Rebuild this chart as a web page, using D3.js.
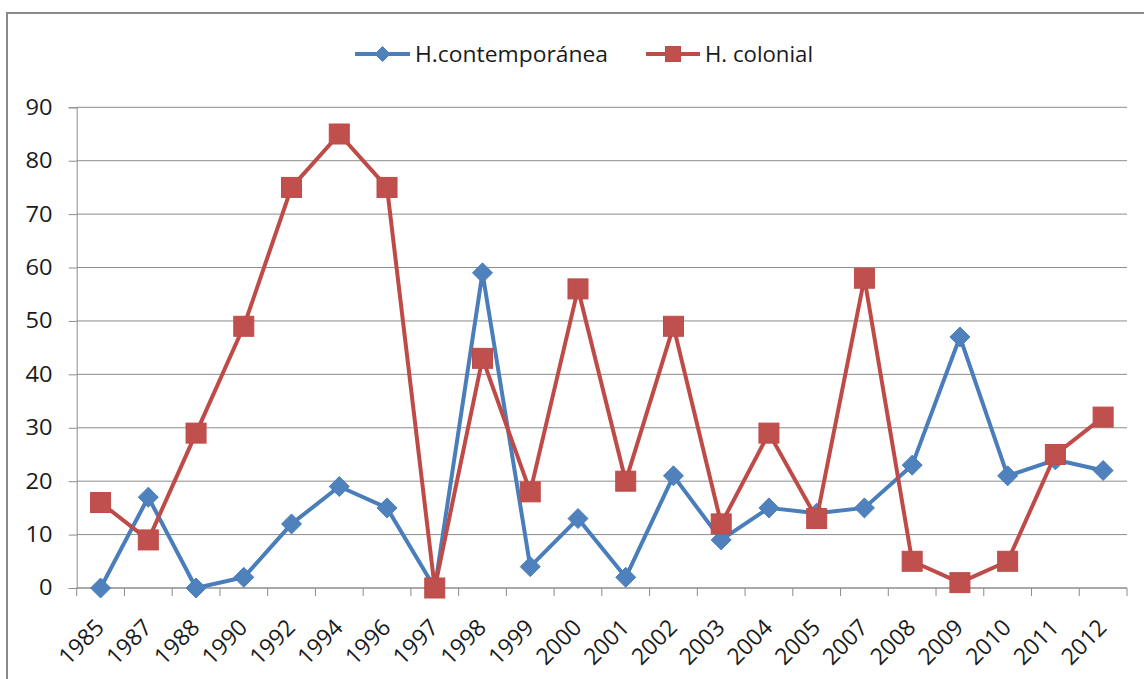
<!DOCTYPE html>
<html><head><meta charset="utf-8">
<script src="https://cdn.jsdelivr.net/npm/d3@7"></script>
<style>
body{margin:0;background:#fff;}
svg{display:block;font-family:"Open Sans", Lato, sans-serif;}
</style></head>
<body><svg id="c" width="1144" height="679"></svg>
<script>
const years = ["1985","1987","1988","1990","1992","1994","1996","1997","1998","1999","2000","2001","2002","2003","2004","2005","2007","2008","2009","2010","2011","2012"];
const contemporanea = [0,17,0,2,12,19,15,0,59,4,13,2,21,9,15,14,15,23,47,21,24,22];
const colonial = [16,9,29,49,75,85,75,0,43,18,56,20,49,12,29,13,58,5,1,5,25,32];
const yTicks = [0,10,20,30,40,50,60,70,80,90];
const seriesNames = ["H.contemporánea","H. colonial"];

const svg = d3.select("#c");
const blue = "#4A7EBB", blueFill = "#4F81BD", red = "#BE4B48", redFill = "#C0504D";
const gridColor = "#8c8c8c";
const FONT = "'Open Sans', Lato, sans-serif";

svg.append("rect").attr("x",7).attr("y",13).attr("width",1200).attr("height",700)
  .attr("fill","none").attr("stroke","#8a8a8a").attr("stroke-width",2);

const x = d3.scaleBand().domain(years).range([76.7,1127]);
const y = d3.scaleLinear().domain([0,90]).range([588,107.3]);

svg.append("g").selectAll("line").data(yTicks).join("line")
  .attr("x1",76.7).attr("x2",1127).attr("y1",d=>y(d)).attr("y2",d=>y(d))
  .attr("stroke",gridColor).attr("stroke-width",1);

const ya = svg.append("g").attr("transform","translate(76.7,0)")
  .call(d3.axisLeft(y).tickValues(yTicks).tickSize(8).tickPadding(10).tickFormat(d3.format("d")));
ya.select(".domain").attr("stroke",gridColor);
ya.selectAll(".tick line").attr("stroke",gridColor);
ya.selectAll("text").attr("font-size",21.5).attr("fill","#1a1a1a").attr("font-family",FONT)
  .attr("transform","scale(1.1,1)").attr("x",-22);

const xa = svg.append("g").attr("transform","translate(0,588)")
  .call(d3.axisBottom(x).tickSize(0).tickFormat(""));
xa.select(".domain").attr("stroke",gridColor).attr("d","M76.7,0H1127");
const bounds = years.map(d=>x(d)).concat([x.range()[1]]);
xa.append("g").selectAll("line").data(bounds).join("line")
  .attr("x1",d=>d).attr("x2",d=>d).attr("y1",0).attr("y2",8)
  .attr("stroke",gridColor);
xa.append("g").selectAll("text").data(years).join("text")
  .attr("transform",d=>`translate(${x(d)+x.bandwidth()/2+5},${41}) rotate(-45)`)
  .attr("text-anchor","end")
  .attr("font-size",23).attr("fill","#1a1a1a").attr("font-family",FONT).text(d=>d);

const cx = d=>x(d)+x.bandwidth()/2;
const line = d3.line().x((d,i)=>cx(years[i])).y(d=>y(d));

svg.append("path").datum(contemporanea).attr("d",line).attr("fill","none")
  .attr("stroke",blue).attr("stroke-width",4).attr("stroke-linejoin","round");
svg.append("g").selectAll("path").data(contemporanea).join("path")
  .attr("transform",(d,i)=>`translate(${cx(years[i])},${y(d)})`)
  .attr("d","M0,-10L10,0L0,10L-10,0Z").attr("fill",blueFill).attr("stroke",blue).attr("stroke-width",1);

svg.append("path").datum(colonial).attr("d",line).attr("fill","none")
  .attr("stroke",red).attr("stroke-width",4).attr("stroke-linejoin","round");
svg.append("g").selectAll("rect").data(colonial).join("rect")
  .attr("x",(d,i)=>cx(years[i])-10).attr("y",d=>y(d)-10).attr("width",20).attr("height",20)
  .attr("fill",redFill).attr("stroke",red).attr("stroke-width",1);

const lg = svg.append("g");
const l1 = lg.append("g").attr("transform","translate(355,54)");
l1.append("line").attr("x1",0).attr("x2",55).attr("stroke",blue).attr("stroke-width",4);
l1.append("path").attr("transform","translate(27.5,0)").attr("d","M0,-7.5L7.5,0L0,7.5L-7.5,0Z").attr("fill",blueFill).attr("stroke",blue);
l1.append("text").attr("x",60).attr("dy","0.36em").attr("font-size",21).attr("fill","#1a1a1a").attr("font-family",FONT)
  .attr("textLength",193).attr("lengthAdjust","spacingAndGlyphs").text(seriesNames[0]);
const l2 = lg.append("g").attr("transform","translate(646,54)");
l2.append("line").attr("x1",0).attr("x2",54).attr("stroke",red).attr("stroke-width",4);
l2.append("rect").attr("x",27-7.5).attr("y",-7.5).attr("width",15).attr("height",15).attr("fill",redFill).attr("stroke",red);
l2.append("text").attr("x",59).attr("dy","0.36em").attr("font-size",21).attr("fill","#1a1a1a").attr("font-family",FONT)
  .attr("textLength",108).attr("lengthAdjust","spacingAndGlyphs").text(seriesNames[1]);
</script></body></html>
